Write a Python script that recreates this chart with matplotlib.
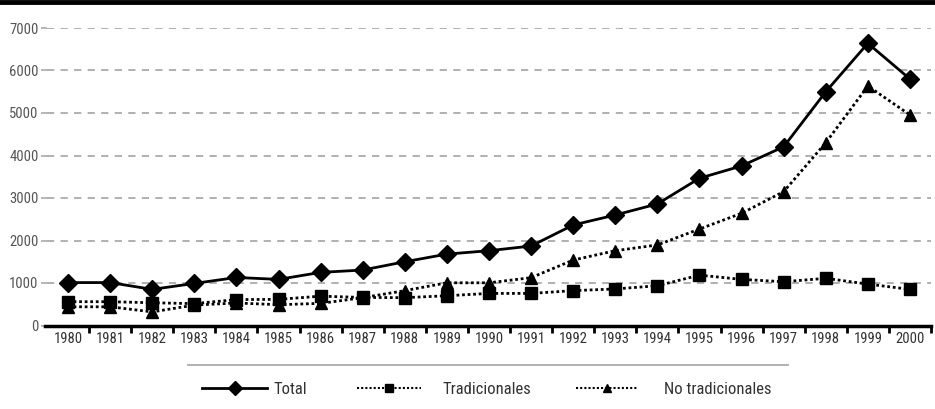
import matplotlib.pyplot as plt
from matplotlib.lines import Line2D
from matplotlib import font_manager as fm

names = {f.name for f in fm.fontManager.ttflist}
family = 'DejaVu Sans'
for cand in ['Liberation Sans Narrow', 'Arial Narrow', 'Roboto Condensed', 'Archivo Narrow',
             'PT Sans Narrow', 'Pragati Narrow', 'Open Sans Condensed', 'Fira Sans Condensed']:
    if cand in names:
        family = cand
        break
plt.rcParams['font.family'] = [family, 'DejaVu Sans']

years = [str(y) for y in range(1980, 2001)]
total = [1010, 1010, 850, 990, 1130, 1085, 1250, 1305, 1500, 1680, 1760, 1870,
         2365, 2600, 2860, 3465, 3755, 4205, 5500, 6640, 5800]
tradicionales = [560, 560, 535, 515, 610, 615, 690, 660, 655, 700, 755, 755,
                 820, 860, 935, 1185, 1085, 1030, 1110, 975, 850]
no_tradicionales = [440, 440, 320, 480, 530, 490, 520, 655, 820, 1005, 1005, 1125,
                    1540, 1760, 1895, 2270, 2640, 3150, 4300, 5635, 4955]
yticks = [0, 1000, 2000, 3000, 4000, 5000, 6000, 7000]

fig = plt.figure(figsize=(9.35, 4.09), dpi=100)
ax = fig.add_axes([47 / 935, 1 - 325.5 / 409, 884 / 935, (325.5 - 28) / 409])

x = list(range(len(years)))
ax.plot(x, total, color='black', lw=2, marker='D', ms=9, clip_on=False, zorder=5)
ax.plot(x, tradicionales, color='black', lw=2, ls=(0, (1, 1)), marker='s', ms=8.5,
        clip_on=False, zorder=4)
ax.plot(x, no_tradicionales, color='black', lw=2, ls=(0, (1, 1)), marker='^', ms=8.5,
        clip_on=False, zorder=4)

ax.set_xlim(-0.5, 20.5)
ax.set_ylim(0, 7000)
ax.set_yticks(yticks)
ax.set_yticklabels([str(v) for v in yticks], color='#555555', fontsize=10.5)
ax.set_xticks(x)
ax.set_xticklabels(years, color='#333333', fontsize=10.5)
ax.set_xticks([i + 0.5 for i in range(len(years))], minor=True)
ax.tick_params(axis='x', which='major', length=0, pad=5)
ax.tick_params(axis='x', which='minor', length=5, width=2, color='black', direction='out')
ax.tick_params(axis='y', length=4, width=1.2, color='#aaaaaa', pad=2)
for v in yticks[1:]:
    ax.axhline(v, color='#aaaaaa', lw=1.3, ls=(0, (4, 3.5)), zorder=1)

for s in ['top', 'right', 'left']:
    ax.spines[s].set_visible(False)
ax.spines['bottom'].set_linewidth(2.5)
ax.spines['bottom'].set_bounds(-0.55, 20.5)

# black band on top
fig.add_artist(Line2D([0, 1], [1 - 1.5 / 409, 1 - 1.5 / 409], color='black', lw=3.5))
# gray rule above legend
fig.add_artist(Line2D([188 / 935, 788 / 935], [1 - 365 / 409, 1 - 365 / 409],
                      color='#aaaaaa', lw=1.3))

handles = [
    Line2D([], [], color='black', lw=2, marker='D', ms=7),
    Line2D([], [], color='black', lw=1.5, ls=(0, (1, 1)), marker='s', ms=6),
    Line2D([], [], color='black', lw=1.5, ls=(0, (1, 1)), marker='^', ms=6),
]
labels = ['Total', 'Tradicionales', 'No tradicionales']
starts = [202, 357, 576]
hlens = [3.9, 3.84, 3.72]
pads = [0.36, 1.26, 1.56]
for h, lab, x0, hl, tp in zip(handles, labels, starts, hlens, pads):
    fig.legend([h], [lab], loc='center left', bbox_to_anchor=(x0 / 935, 1 - 389 / 409),
               frameon=False, fontsize=12, handlelength=hl, handletextpad=tp,
               borderpad=0, borderaxespad=0, labelcolor='#333333')

fig.savefig('out.png', dpi=100)
